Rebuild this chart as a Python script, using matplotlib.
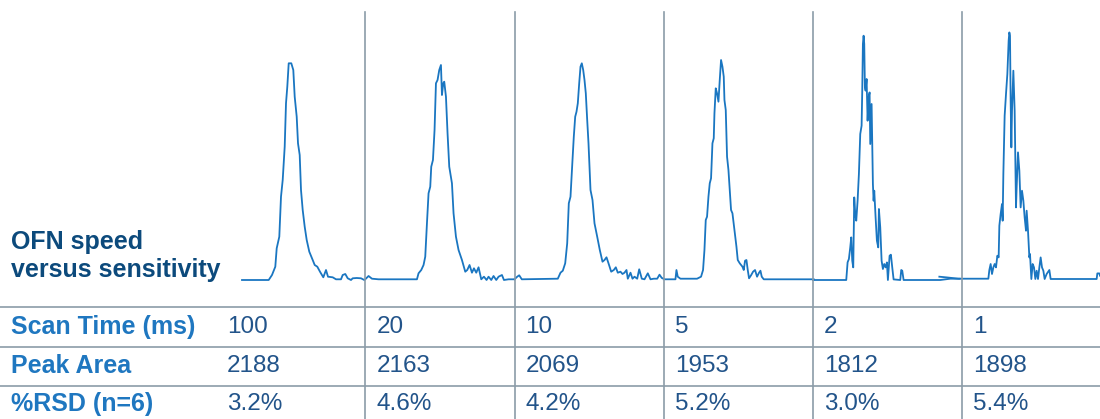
import matplotlib.pyplot as plt
from matplotlib.lines import Line2D

# ---------------------------------------------------------------------------------------------------------------------
# chromatogram data for each scan time (time in panel units, intensity relative above baseline)
scan_times = ['100', '20', '10', '5', '2', '1']
peak_areas = ['2188', '2163', '2069', '1953', '1812', '1898']
rsd_values = ['3.2%', '4.6%', '4.2%', '5.2%', '3.0%', '5.4%']
row_labels = ['Scan Time (ms)', 'Peak Area', '%RSD (n=6)']

t_100 = [26, 52.7, 56, 59.3, 60.7, 63.3, 65, 66.7, 68.7, 70, 71.3, 72.7, 75.3, 77.3, 78.7, 80.7, 82, 83.7, 85,
         86.7, 88.7, 90.7, 93.3, 96.7, 98.7, 101.3, 104, 107.3, 110, 112, 116.7, 120, 125, 126.7, 129.3, 131.7,
         135, 136.7, 140.7, 145, 148.3]
i_100 = [0, 0, 5, 13.3, 31.7, 43.3, 83.3, 100, 133.3, 176.7, 193.3, 216.7, 216.7, 210, 183.3, 163.3, 136.7, 125,
         90, 70, 53.3, 40, 28.3, 20, 15, 13.3, 8.3, 2.7, 10, 3.3, 2.7, 0.7, 0.7, 5, 6, 1.7, 0, 1.7, 2, 1.7, 0]

t_20 = [0, 3.3, 6.7, 13.3, 51.7, 53.3, 56, 58.3, 60, 61.7, 63.3, 65, 66, 67.7, 69.3, 70.7, 72.3, 74, 75.7, 76.7,
        78, 79, 80.7, 82.3, 84, 86.7, 88.3, 90.7, 93.3, 96.7, 100, 102, 104.3, 106.7, 108.7, 111, 113.3, 116,
        118.7, 121.3, 123.3, 126, 128.3, 131, 133.3, 136.7, 138.7, 143.3, 149.3]
i_20 = [0.7, 4, 1.3, 0.7, 0.7, 6.7, 10, 15, 23.3, 56.7, 86.7, 93.3, 113.3, 120, 150, 196.7, 200, 210, 215, 185,
        196.7, 198.3, 183.3, 146.7, 113.3, 96.7, 66.7, 43.3, 30, 20, 8.3, 10, 15, 7.3, 11.7, 7.3, 12.7, 0.7,
        3.3, 0, 3.3, 0, 4, 0, 3.3, 5, 0, 0.7, 0.7]

t_10 = [0, 2.7, 4.7, 7.3, 43.3, 46, 48.3, 50.7, 52.7, 54.3, 56, 58, 59.3, 60.7, 62, 63.3, 64.7, 66, 67.3, 68.7,
        70, 71.3, 72.7, 74, 76, 78, 80, 82.7, 85.3, 88, 90, 92, 94, 96.7, 99.3, 101.3, 103.3, 106, 108, 110,
        112, 113.3, 116, 118, 120, 122.7, 124.7, 127.3, 130, 133.3, 136, 139.3, 142.7, 145, 147.3, 149.3]
i_10 = [0.7, 3.3, 4.7, 0.7, 1.3, 7.3, 9.3, 16.7, 36.7, 76.7, 83.3, 120, 143.3, 163.3, 168.3, 176.7, 196.7, 213.3,
        216.7, 210, 200, 186.7, 160, 136.7, 90, 80, 56.7, 43.3, 30, 18.3, 20, 22.7, 16.7, 8.3, 10, 12.7, 7.3,
        8.3, 6, 7.3, 10, 1.3, 7.3, 1.3, 3.3, 1.3, 10.7, 1.3, 0.7, 6.7, 0.7, 1.3, 1.3, 5.3, 2, 1.3]

t_5 = [0, 11.7, 12.7, 14, 16.7, 33.3, 37.3, 39.3, 40.7, 42, 43.3, 44.7, 46, 47.3, 48.7, 50, 50.7, 52, 53.3, 54.7,
       56, 57.3, 58.7, 60, 60.7, 62, 63.3, 64.7, 66, 67.3, 68.7, 70.7, 72.7, 74, 76, 78.7, 80, 81.3, 82.7, 84,
       85.3, 87.3, 89.3, 91.3, 93.3, 95.3, 96.7, 98, 100, 106.7, 150]
i_5 = [0.7, 0.7, 10, 3.3, 1.3, 1.3, 3.3, 10, 30, 60, 63.3, 83.3, 96.7, 101.7, 136.7, 141.7, 166.7, 191.7, 186.7,
       178.3, 200, 220, 213.3, 203.3, 180, 170, 123.3, 110, 90, 70, 66.7, 50, 33.3, 20, 16.7, 13.3, 10, 19.3,
       20, 10, 1.7, 4.7, 8.3, 10, 3.3, 7.3, 9.3, 3.3, 0.7, 0.7, 0.7]

t_2 = [0, 33.25, 34.6, 35.9, 37.25, 38.25, 39.25, 40.25, 41.25, 42.25, 43.25, 44.6, 45.9, 47.25, 48.6, 49.25,
       49.9, 50.6, 51.25, 51.9, 52.6, 53.6, 54.6, 55.6, 56.6, 57.25, 58.6, 59.25, 59.9, 60.6, 61.25, 62.6, 63.9,
       65.25, 65.9, 67.25, 68.6, 69.9, 71.25, 72.6, 73.9, 74.9, 76.6, 77.9, 79.25, 80.6, 87.25, 88.25, 89.25,
       90.6, 127.25, 137.25, 146.6]
i_2 = [0, 0, 17.7, 21, 32.6, 42.6, 19.3, 12.6, 82.6, 66, 59.3, 79.3, 106, 146, 154.3, 189.3, 236, 244.3, 236,
       192.6, 189.3, 201, 159.3, 182.6, 187.6, 136, 176, 136, 96, 79.3, 89.3, 62.6, 39.3, 32.6, 71, 52.6, 19.3,
       11, 16, 12.6, 17.6, 0, 24.3, 25.3, 12.6, 0.6, 0, 10, 9.3, 0, 0, 1.3, 1.3]

t_1 = [-22.9, -15.6, -3.9, 26.1, 27.1, 28.4, 29.75, 31.1, 32.4, 33.75, 35.1, 36.4, 37.1, 38.4, 39.75, 40.4, 41.1,
       42.4, 43.75, 45.1, 46.4, 47.1, 47.75, 48.4, 49.1, 49.75, 51.1, 52.4, 53.75, 54.4, 55.75, 57.1, 58.4,
       59.75, 61.1, 62.4, 63.75, 64.4, 65.75, 67.1, 67.75, 69.1, 70.4, 71.75, 73.1, 74.4, 75.75, 77.1, 78.4,
       79.75, 81.1, 82.4, 84.4, 87.1, 88.4, 134.4, 135.1, 137.1, 137.75]
i_1 = [3.3, 2.6, 1.3, 1.3, 10, 16, 6, 12.6, 16, 12.6, 24.3, 22.6, 54.3, 66, 76, 59.3, 106, 164.3, 186, 206,
       239.3, 247.6, 244.3, 179.3, 132.6, 169.3, 209.3, 169.3, 72.6, 92.6, 127.6, 109.3, 72.6, 89.3, 79.3,
       62.6, 49.3, 69.3, 49.3, 22.6, 26, 1, 16, 12.6, 1, 9.3, 1, 12.6, 22.6, 12.6, 9.3, 1, 6, 10, 1, 1, 6.6,
       6.6, 4.3]

traces = [(t_100, i_100), (t_20, i_20), (t_10, i_10), (t_5, i_5), (t_2, i_2), (t_1, i_1)]

# colours
trace_col = '#1a76c1'
grid_col = '#8b9ca8'
title_col = '#0c4a7c'
label_col = '#1f77c0'
value_col = '#22548a'

W, H = 1100, 419
fig = plt.figure(figsize=(11, 4.19), dpi=100)

col0 = 216
col_w = 149.25
plot_top = 12
plot_bot = 307
baseline = 280
row_lines = [307, 347, 386]
row_centres = [327, 366, 404]

for k, (t, y) in enumerate(traces):
    left = col0 + k * col_w
    ax = fig.add_axes([left / W, 1 - plot_bot / H, col_w / W, (plot_bot - plot_top) / H])
    ax.plot(t, y, color=trace_col, lw=1.3, clip_on=False, solid_joinstyle='round')
    ax.set_xlim(0, col_w)
    ax.set_ylim(-(plot_bot - baseline), baseline - plot_top)
    ax.axis('off')
    if k > 0:
        fig.add_artist(Line2D([left / W, left / W], [0, 1 - plot_top / H], color=grid_col, lw=1.2))

for yl in row_lines:
    fig.add_artist(Line2D([0, 1], [1 - yl / H, 1 - yl / H], color=grid_col, lw=1.2))

# title on the left
fig.text(11 / W, 1 - 242 / H, 'OFN speed', color=title_col, fontsize=18, fontweight='bold',
         va='center', family='Liberation Sans')
fig.text(11 / W, 1 - 270 / H, 'versus sensitivity', color=title_col, fontsize=18, fontweight='bold',
         va='center', family='Liberation Sans')

# table rows
rows = [scan_times, peak_areas, rsd_values]
for label, vals, yc in zip(row_labels, rows, row_centres):
    fig.text(11 / W, 1 - yc / H, label, color=label_col, fontsize=18, fontweight='bold',
             va='center', family='Liberation Sans')
    for k, v in enumerate(vals):
        fig.text((col0 + k * col_w + 11) / W, 1 - yc / H, v, color=value_col, fontsize=17.5,
                 va='center', family='Liberation Sans')

fig.savefig('out.png', dpi=100)
